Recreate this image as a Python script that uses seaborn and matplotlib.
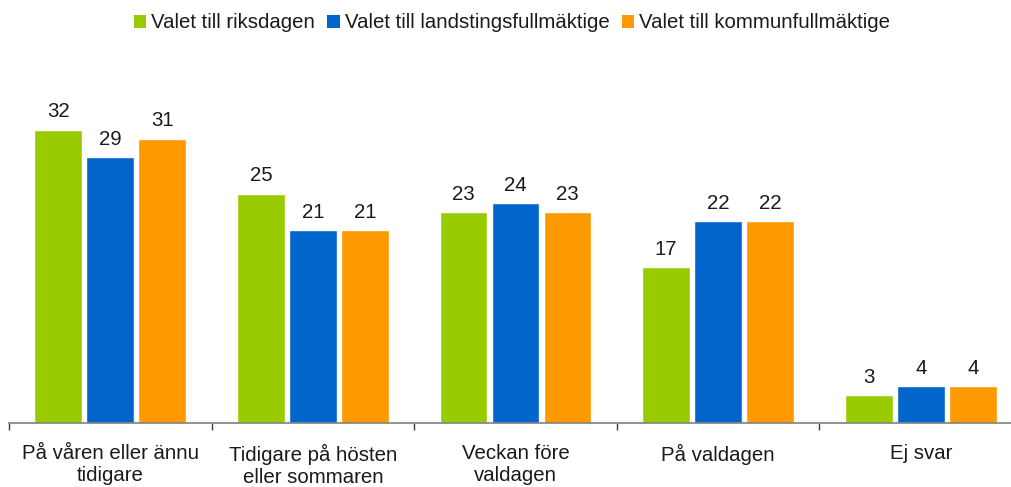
import matplotlib
matplotlib.use("Agg")
import matplotlib.pyplot as plt
from matplotlib.patches import Patch
from matplotlib.ticker import FixedLocator
import seaborn as sns
import pandas as pd

categories = ["På våren eller ännu\ntidigare", "Tidigare på hösten\neller sommaren",
              "Veckan före\nvaldagen", "På valdagen", "Ej svar"]
series = ["Valet till riksdagen", "Valet till landstingsfullmäktige", "Valet till kommunfullmäktige"]
riksdagen = [32, 25, 23, 17, 3]
landsting = [29, 21, 24, 22, 4]
kommun = [31, 21, 23, 22, 4]
colors = ["#99CC00", "#0066CC", "#FF9900"]

rows = []
for s, vals in zip(series, [riksdagen, landsting, kommun]):
    for c, v in zip(categories, vals):
        rows.append({"cat": c, "series": s, "value": v})
df = pd.DataFrame(rows)

sns.set_theme(style="white")
plt.rcParams['font.family'] = ['Liberation Sans', 'DejaVu Sans']

FS = 14.7
fig = plt.figure(figsize=(10.11, 4.87), dpi=100)
W, H = 1011, 487
left, right = 9, 1022
bottom, top = 423, 102
ax = fig.add_axes([left / W, 1 - bottom / H, (right - left) / W, (bottom - top) / H])

sns.barplot(data=df, x="cat", y="value", hue="series", palette=colors,
            width=0.77, gap=0.08, ax=ax, legend=False, saturation=1)

for cont in ax.containers:
    ax.bar_label(cont, padding=6, fontsize=FS, color="#1a1a1a")

ax.set_xlim(-0.5, 4.5)
ax.set_ylim(0, 35)
ax.set_xlabel("")
ax.set_ylabel("")
ax.set_yticks([])
for s in ["top", "right", "left"]:
    ax.spines[s].set_visible(False)
ax.spines["bottom"].set_color("#808080")
ax.spines["bottom"].set_linewidth(1.2)
ax.tick_params(axis="x", which="major", length=0, pad=15, labelsize=FS, labelcolor="#1a1a1a")
for lbl in ax.get_xticklabels():
    lbl.set_linespacing(1.2)
ax.xaxis.set_minor_locator(FixedLocator([-0.5, 0.5, 1.5, 2.5, 3.5, 4.5]))
ax.tick_params(axis="x", which="minor", length=5, width=1, color="#404040", bottom=True)

handles = [Patch(facecolor=c, edgecolor="none", label=s) for c, s in zip(colors, series)]
fig.legend(handles=handles, loc="center", bbox_to_anchor=(512 / W, 1 - 23 / H), ncol=3,
           frameon=False, fontsize=FS, handlelength=0.6, handleheight=0.6,
           handletextpad=0.25, columnspacing=0.6, labelcolor="#1a1a1a")

fig.savefig("out.png", dpi=100)
